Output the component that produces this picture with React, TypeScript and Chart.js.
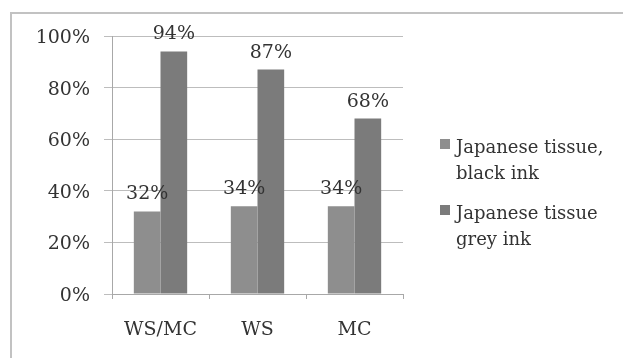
import React, { useEffect, useRef } from "react";
import { Chart, registerables } from "chart.js";

Chart.register(...registerables);

// Data
const categories = ["WS/MC", "WS", "MC"];
const blackInk = [32, 34, 34];
const greyInk = [94, 87, 68];
const seriesLabels = [
  ["Japanese tissue,", "black ink"],
  ["Japanese tissue", "grey ink"],
];
const seriesColors = ["#8e8e8e", "#7b7b7b"];
const yTicks = [0, 20, 40, 60, 80, 100];

const FONT = "'DejaVu Serif', serif";
const TEXT = "#333333";

export default function App() {
  const ref = useRef<HTMLCanvasElement>(null);

  useEffect(() => {
    const canvas = ref.current;
    if (!canvas) return;

    // Percentage labels above every bar
    const valueLabels = {
      id: "valueLabels",
      afterDatasetsDraw(chart: any) {
        const ctx = chart.ctx;
        ctx.save();
        ctx.font = `19px ${FONT}`;
        ctx.fillStyle = TEXT;
        ctx.textAlign = "center";
        ctx.textBaseline = "alphabetic";
        chart.data.datasets.forEach((ds: any, i: number) => {
          const meta = chart.getDatasetMeta(i);
          meta.data.forEach((bar: any, j: number) => {
            ctx.fillText(`${ds.data[j]}%`, bar.x, bar.y - 12);
          });
        });
        ctx.restore();
      },
    };

    // Two-line legend to the right of the plot
    const sideLegend = {
      id: "sideLegend",
      afterDraw(chart: any) {
        const ctx = chart.ctx;
        const x = chart.chartArea.right + 37;
        let y = 139;
        ctx.save();
        ctx.font = `18px ${FONT}`;
        ctx.textAlign = "left";
        ctx.textBaseline = "alphabetic";
        chart.data.datasets.forEach((ds: any, i: number) => {
          ctx.fillStyle = ds.backgroundColor;
          ctx.fillRect(x, y, 10, 10);
          ctx.fillStyle = TEXT;
          seriesLabels[i].forEach((line, k) => {
            ctx.fillText(line, x + 16, y + 14 + k * 26);
          });
          y += 66;
        });
        ctx.restore();
      },
    };

    const chart = new Chart(canvas, {
      type: "bar",
      data: {
        labels: categories,
        datasets: [
          {
            label: seriesLabels[0].join(" "),
            data: blackInk,
            backgroundColor: seriesColors[0],
            borderWidth: 0,
            barPercentage: 1,
            categoryPercentage: 0.55,
          },
          {
            label: seriesLabels[1].join(" "),
            data: greyInk,
            backgroundColor: seriesColors[1],
            borderWidth: 0,
            barPercentage: 1,
            categoryPercentage: 0.55,
          },
        ],
      },
      options: {
        responsive: false,
        animation: false,
        layout: { padding: { left: 0, top: 36, right: 220, bottom: 0 } },
        plugins: {
          legend: { display: false },
          tooltip: { enabled: false },
        },
        scales: {
          x: {
            grid: {
              drawOnChartArea: false,
              drawTicks: true,
              tickLength: 5,
              color: "#a8a8a8",
              offset: true,
            },
            border: { color: "#a8a8a8", width: 1 },
            ticks: {
              font: { family: FONT, size: 19 },
              color: TEXT,
              padding: 20,
              maxRotation: 0,
            },
            afterFit(scale: any) {
              scale.height = 64;
            },
          },
          y: {
            min: 0,
            max: 100,
            afterBuildTicks(scale: any) {
              scale.ticks = yTicks.map((v) => ({ value: v }));
            },
            grid: {
              color: "#bdbdbd",
              tickLength: 8,
            },
            border: { color: "#a8a8a8", width: 1 },
            ticks: {
              font: { family: FONT, size: 19 },
              color: TEXT,
              padding: 14,
              labelOffset: 2,
              callback: (v: any) => `${v}%`,
            },
            afterFit(scale: any) {
              scale.width = 112;
            },
          },
        },
      },
      plugins: [valueLabels, sideLegend],
    });

    return () => chart.destroy();
  }, []);

  return (
    <div
      style={{
        position: "fixed",
        left: 0,
        top: 0,
        width: 623,
        height: 358,
        background: "#ffffff",
        overflow: "hidden",
      }}
    >
      <div
        style={{
          position: "absolute",
          left: 10,
          top: 12,
          width: 640,
          height: 380,
          borderLeft: "2px solid #c2c2c2",
          borderTop: "2px solid #c2c2c2",
        }}
      />
      <canvas
        ref={ref}
        width={623}
        height={358}
        style={{ position: "absolute", left: 0, top: 0 }}
      />
    </div>
  );
}
